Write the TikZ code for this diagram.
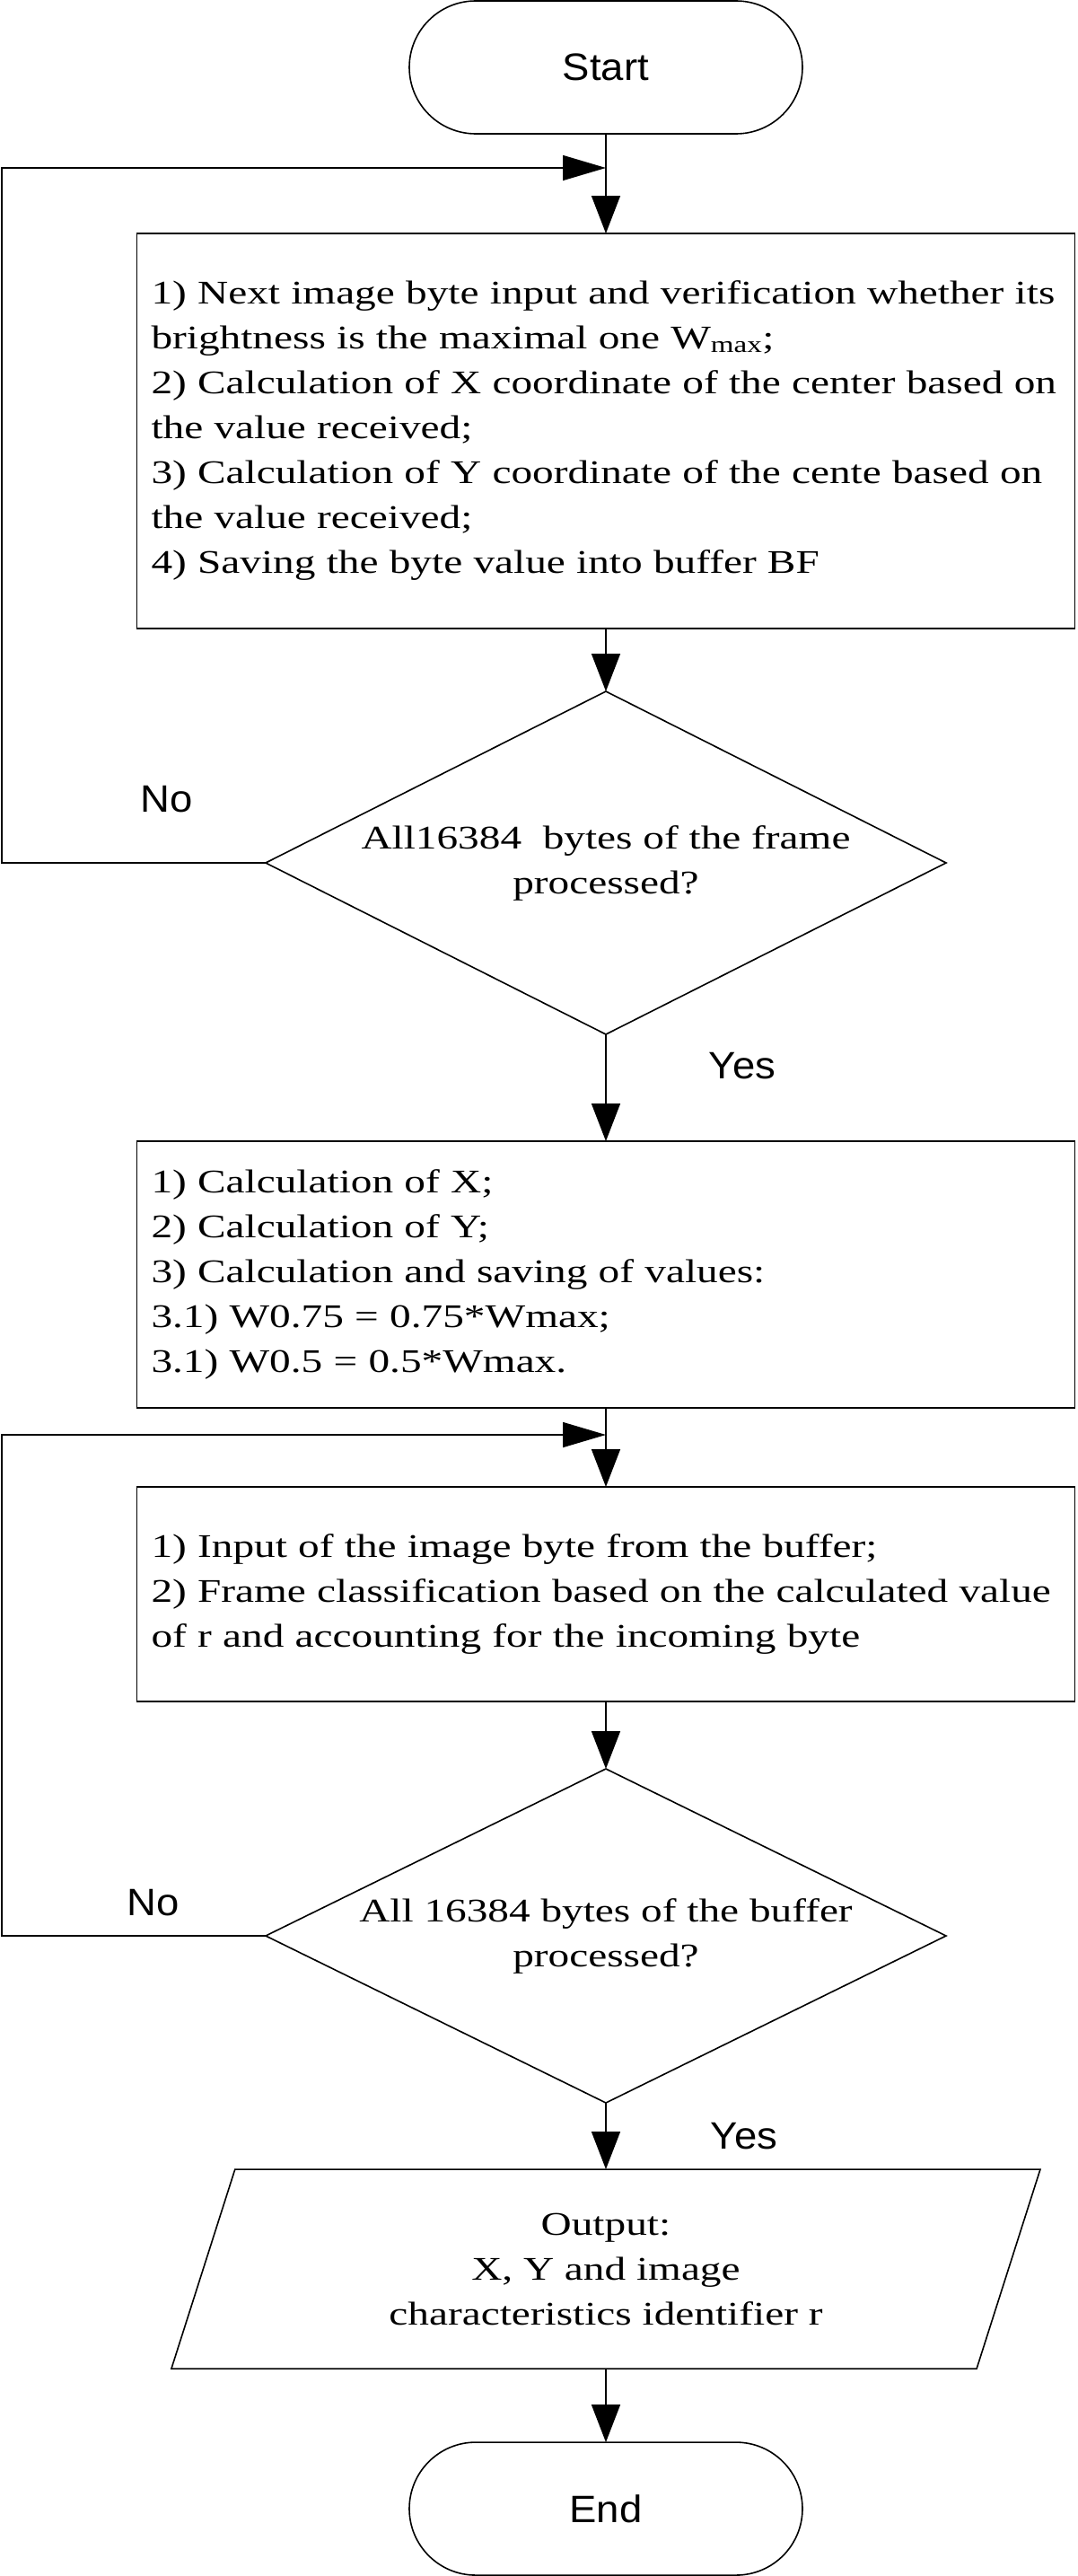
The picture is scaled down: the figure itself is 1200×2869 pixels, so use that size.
\documentclass[tikz,border=0pt]{standalone}
\usepackage{fontspec}
\setmainfont{Liberation Serif}[FakeStretch=1.285]
\setsansfont{Liberation Sans}[FakeStretch=1.07]
\usepackage{tikz}
\usetikzlibrary{arrows.meta,positioning,shapes.geometric,shapes.misc,calc}

\begin{document}
\begin{tikzpicture}[x=1pt, y=1pt, line width=1.6pt]
			\tikzset{
				term/.style={draw, rounded rectangle, minimum width=438pt, minimum height=148pt, inner sep=0pt, outer sep=0pt, font={\sffamily\fontsize{42.5pt}{50pt}\selectfont}},
				procbox/.style={draw, rectangle, inner xsep=16pt, inner ysep=0pt, outer sep=0pt, text width=1013pt, align=left, font={\fontsize{36.8pt}{50pt}\selectfont}},
				decide/.style={draw, diamond, aspect=2, minimum width=758pt, inner sep=0pt, outer sep=0pt, align=center, font={\fontsize{36.8pt}{50pt}\selectfont}},
				iobox/.style={draw, trapezium, trapezium left angle=60.4, trapezium right angle=119.6, trapezium stretches body, minimum width=968pt, minimum height=222pt, inner sep=0pt, outer sep=0pt, align=center, font={\fontsize{36.8pt}{50pt}\selectfont}},
				lbl/.style={font={\sffamily\fontsize{42.5pt}{50pt}\selectfont}},
				vflow/.style={-{Triangle[length=42pt, width=32pt]}},
				hflow/.style={-{Triangle[length=48pt, width=28pt]}},
			}

			\useasboundingbox (0,0) rectangle (1200,-2869);

			\node[term] (start) at (675,-75) {Start};

			\node[procbox, minimum height=440pt, below=111pt of start] (box1) {1) Next image byte input and verification whether its\\
				brightness is the maximal one W\textsubscript{max};\\
				2) Calculation of X coordinate of the center based on\\
				the value received;\\
				3) Calculation of Y coordinate of the cente based on\\
				the value received;\\
				4) Saving the byte value into buffer BF};

			\node[decide, minimum height=382pt, below=70pt of box1] (d1) {All16384\ \ bytes of the frame\\ processed?};

			\node[procbox, minimum height=297pt, below=119pt of d1] (box2) {1) Calculation of X;\\
				2) Calculation of Y;\\
				3) Calculation and saving of values:\\
				3.1) W0.75 = 0.75*Wmax;\\
				3.1) W0.5 = 0.5*Wmax.};

			\node[procbox, minimum height=239pt, below=88pt of box2] (box3) {1) Input of the image byte from the buffer;\\
				2) Frame classification based on the calculated value\\
				of r and accounting for the incoming byte};

			\node[decide, minimum height=372pt, below=75pt of box3] (d2) {All 16384 bytes of the buffer\\ processed?};

			\node[iobox, below=74pt of d2] (out) {Output:\\ X, Y and image\\ characteristics identifier r};

			\node[term, below=82pt of out] (end) {End};

			\coordinate (rail) at (2,0);
			\coordinate[below=38pt of start.south] (join1);
			\coordinate[below=30pt of box2.south] (join2);

			\draw[vflow] (start.south) -- (box1.north);
			\draw[vflow] (box1.south) -- (d1.north);
			\draw[hflow] (d1.west) -- (d1.west -| rail) |- (join1);
			\draw[vflow] (d1.south) -- (box2.north);
			\draw[vflow] (box2.south) -- (box3.north);
			\draw[vflow] (box3.south) -- (d2.north);
			\draw[hflow] (d2.west) -- (d2.west -| rail) |- (join2);
			\draw[vflow] (d2.south) -- (out.north);
			\draw[vflow] (out.south) -- (end.north);

			\node[lbl] (no1) at ($(d1.west)+(-110,71)$) {No};
			\node[lbl] (yes1) at ($(d1.south)+(152,-35)$) {Yes};
			\node[lbl] (no2) at ($(d2.west)+(-125,37)$) {No};
			\node[lbl] (yes2) at ($(d2.south)+(154,-37)$) {Yes};

		\end{tikzpicture}
\end{document}
